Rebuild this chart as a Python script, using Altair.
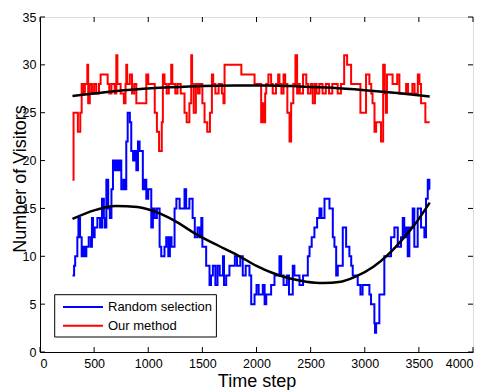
import altair as alt
import pandas as pd

series_names = ["Random selection", "Our method"]

blue_steps = [300, 315, 325, 345, 355, 370, 385, 400, 415, 428, 450, 470, 480, 490, 505, 530, 555, 573,
              590, 597, 613, 630, 645, 660, 674, 690, 705, 720, 735, 751, 770, 782, 797, 810, 830, 843,
              860, 875, 890, 905, 920, 950, 965, 982, 1000, 1028, 1043, 1060, 1080, 1105, 1120, 1150,
              1166, 1185, 1200, 1215, 1243, 1260, 1290, 1335, 1350, 1380, 1410, 1430, 1455, 1475, 1490,
              1500, 1535, 1566, 1580, 1597, 1620, 1640, 1660, 1690, 1700, 1720, 1750, 1800, 1820, 1850,
              1873, 1900, 1935, 1951, 1982, 2000, 2020, 2058, 2075, 2090, 2135, 2166, 2212, 2228, 2250,
              2280, 2300, 2335, 2350, 2397, 2430, 2474, 2490, 2510, 2535, 2560, 2582, 2600, 2628, 2674,
              2705, 2720, 2736, 2751, 2797, 2828, 2858, 2875, 2889, 2935, 2960, 2980, 3043, 3058, 3089,
              3095, 3105, 3135, 3181, 3243, 3274, 3305, 3335, 3351, 3365, 3380, 3397, 3412, 3443, 3458,
              3489, 3520, 3551, 3566, 3582, 3597, 3600]
blue_values = [8, 9, 10, 12, 14, 12, 10, 11, 10, 11, 12, 11, 14, 12, 13, 14, 13, 16,
               14, 13, 18, 15, 14, 17, 20, 19, 20, 19, 20, 17, 18, 17, 22, 25, 24, 21,
               20, 21, 19, 22, 21, 17, 18, 16, 17, 13, 15, 14, 15, 11, 10, 11,
               12, 10, 12, 11, 15, 16, 15, 17, 15, 16, 14, 12, 13, 12, 14,
               11, 9, 7, 8, 9, 7, 9, 8, 10, 7, 8, 9, 10, 9, 10,
               8, 9, 8, 5, 6, 7, 6, 7, 5, 6, 7, 8, 10, 8, 7,
               8, 6, 9, 8, 7, 8, 10, 11, 12, 13, 14, 15, 14, 16, 15,
               12, 11, 8, 9, 13, 11, 10, 9, 8, 7, 6, 7, 6, 5, 3,
               2, 3, 6, 10, 12, 13, 11, 12, 14, 12, 13, 10, 13, 15, 11,
               15, 13, 12, 16, 18, 17, 17]

red_steps = [300, 310, 350, 372, 385, 400, 415, 437, 445, 460, 480, 500, 520, 545, 560, 625, 640, 660,
             690, 705, 715, 745, 775, 790, 797, 805, 830, 850, 870, 890, 982, 1000, 1060, 1080, 1100,
             1125, 1135, 1150, 1170, 1190, 1212, 1222, 1250, 1270, 1300, 1335, 1355, 1380, 1397, 1405,
             1420, 1440, 1460, 1475, 1500, 1520, 1545, 1570, 1588, 1600, 1620, 1650, 1680, 1695, 1705,
             1860, 1982, 2043, 2052, 2065, 2080, 2090, 2110, 2135, 2150, 2180, 2200, 2212, 2230, 2250,
             2265, 2285, 2305, 2320, 2340, 2360, 2375, 2385, 2400, 2430, 2460, 2475, 2500, 2520, 2540,
             2555, 2580, 2610, 2640, 2670, 2700, 2750, 2780, 2810, 2837, 2874, 2960, 3012, 3043, 3060,
             3072, 3090, 3105, 3150, 3170, 3185, 3195, 3205, 3257, 3300, 3320, 3382, 3400, 3440, 3460,
             3490, 3505, 3520, 3560, 3580, 3600]
red_values = [18, 25, 23, 25, 28, 27, 28, 30, 26, 28, 27, 28, 27, 28, 29, 28, 27, 28,
              27, 31, 28, 27, 26, 28, 30, 28, 29, 27, 28, 26, 29, 28, 25, 23, 21,
              24, 29, 28, 27, 28, 30, 28, 27, 28, 27, 25, 24, 26, 31, 28,
              25, 28, 27, 28, 26, 24, 23, 25, 29, 28, 27, 28, 27, 26, 30,
              29, 28, 24, 26, 24, 27, 28, 29, 28, 27, 28, 29, 28, 27, 29,
              28, 25, 22, 26, 28, 31, 27, 28, 27, 29, 28, 27, 28, 26, 28,
              27, 28, 27, 28, 27, 28, 27, 28, 31, 30, 28, 25, 29, 28, 27,
              26, 23, 24, 22, 30, 27, 25, 29, 28, 29, 27, 28, 27, 28, 27,
              29, 28, 26, 24, 24, 24]

red_fit_steps = [300, 600, 900, 1200, 1500, 1800, 2100, 2400, 2700, 3000, 3300, 3600]
red_fit_values = [26.75, 27.15, 27.45, 27.65, 27.8, 27.85, 27.85, 27.75, 27.6, 27.35, 27.05, 26.7]

blue_fit_steps = [300, 500, 700, 900, 1100, 1228, 1474, 1650, 1843, 2000, 2150, 2300, 2459, 2612,
                  2780, 2920, 3080, 3227, 3350, 3474, 3600]
blue_fit_values = [13.9, 14.8, 15.25, 15.15, 14.5, 13.8, 12.1, 11.1, 10.0, 9.0, 8.25, 7.7, 7.35, 7.2,
                   7.35, 7.9, 8.9, 10.3, 11.8, 13.5, 15.6]

x_ticks = [0, 500, 1000, 1500, 2000, 2500, 3000, 3500, 4000]
y_ticks = [0, 5, 10, 15, 20, 25, 30, 35]

W, H = 433, 335
FONT = "Liberation Sans"

lines_df = pd.concat([
    pd.DataFrame({"step": blue_steps, "value": blue_values, "series": series_names[0]}),
    pd.DataFrame({"step": red_steps, "value": red_values, "series": series_names[1]}),
])
fit_df = pd.concat([
    pd.DataFrame({"step": blue_fit_steps, "value": blue_fit_values, "fit": "blue"}),
    pd.DataFrame({"step": red_fit_steps, "value": red_fit_values, "fit": "red"}),
])

xscale = alt.Scale(domain=[0, 4000], nice=False, zero=False)
yscale = alt.Scale(domain=[0, 35], nice=False)

common = dict(grid=False, ticks=False, domainColor="black", domainWidth=1, labelFont=FONT,
              labelFontSize=12.5, labelColor="black", titleColor="black", titleFont=FONT,
              titleFontSize=18, titleFontWeight="normal")
xaxis = alt.Axis(values=x_ticks, title="Time step", titleY=34, titleBaseline="alphabetic",
                 labelPadding=5, format="d", **common)
yaxis = alt.Axis(values=y_ticks, title="Number of Visitors", titleX=-15, titleY=H / 2 - 6,
                 titleAngle=270, titleAlign="center", titleBaseline="alphabetic",
                 labelPadding=4, **common)

data_lines = alt.Chart(lines_df).mark_line(interpolate="step-after", strokeWidth=2).encode(
    x=alt.X("step:Q", scale=xscale, axis=xaxis),
    y=alt.Y("value:Q", scale=yscale, axis=yaxis),
    color=alt.Color("series:N", scale=alt.Scale(domain=series_names, range=["#0000ff", "#ff0000"]),
                    legend=None),
    detail="series:N",
)

fit_lines = alt.Chart(fit_df).mark_line(interpolate="monotone", strokeWidth=2.5, color="black").encode(
    x=alt.X("step:Q", scale=xscale, axis=xaxis),
    y=alt.Y("value:Q", scale=yscale, axis=yaxis),
    detail="fit:N",
)

xt = pd.DataFrame({"t": x_ticks})
yt = pd.DataFrame({"t": y_ticks})
tick_bottom = alt.Chart(xt).mark_rule(color="black", strokeWidth=1).encode(
    x=alt.X("t:Q", scale=xscale, axis=xaxis), y=alt.value(H), y2=alt.value(H - 5))
tick_top = alt.Chart(xt).mark_rule(color="black", strokeWidth=1).encode(
    x=alt.X("t:Q", scale=xscale, axis=xaxis), y=alt.value(0), y2=alt.value(5))
tick_left = alt.Chart(yt).mark_rule(color="black", strokeWidth=1).encode(
    y=alt.Y("t:Q", scale=yscale, axis=yaxis), x=alt.value(0), x2=alt.value(5))
tick_right = alt.Chart(yt).mark_rule(color="black", strokeWidth=1).encode(
    y=alt.Y("t:Q", scale=yscale, axis=yaxis), x=alt.value(W), x2=alt.value(W - 5))

legend_df = pd.DataFrame({"label": series_names})
box = alt.Chart(legend_df.head(1)).mark_rect(fill="white", stroke="black", strokeWidth=1).encode(
    x=alt.value(14.7), x2=alt.value(176.4), y=alt.value(277.7), y2=alt.value(320))

legend_layers = []
for i, (col, yy) in enumerate([("#0000ff", 290), ("#ff0000", 308.7)]):
    d = legend_df.iloc[[i]]
    legend_layers.append(alt.Chart(d).mark_rule(color=col, strokeWidth=2).encode(
        x=alt.value(23), x2=alt.value(63), y=alt.value(yy)))
    legend_layers.append(alt.Chart(d).mark_text(align="left", baseline="middle", font=FONT,
                                                fontSize=13, color="black").encode(
        x=alt.value(68), y=alt.value(yy), text="label:N"))

chart = alt.layer(data_lines, fit_lines, tick_bottom, tick_top, tick_left, tick_right, box,
                  *legend_layers).properties(
    width=W, height=H,
    autosize=alt.AutoSizeParams(type="none"),
    padding={"left": 32, "top": 9, "right": 8, "bottom": 38},
).configure_view(stroke="black", strokeWidth=1).configure_axis(
    grid=False, ticks=False, domainColor="black", labelColor="black", labelFont=FONT,
    labelFontSize=12.5,
).configure(background="white")

chart.save("out.html", embed_options={"renderer": "svg", "actions": False})
